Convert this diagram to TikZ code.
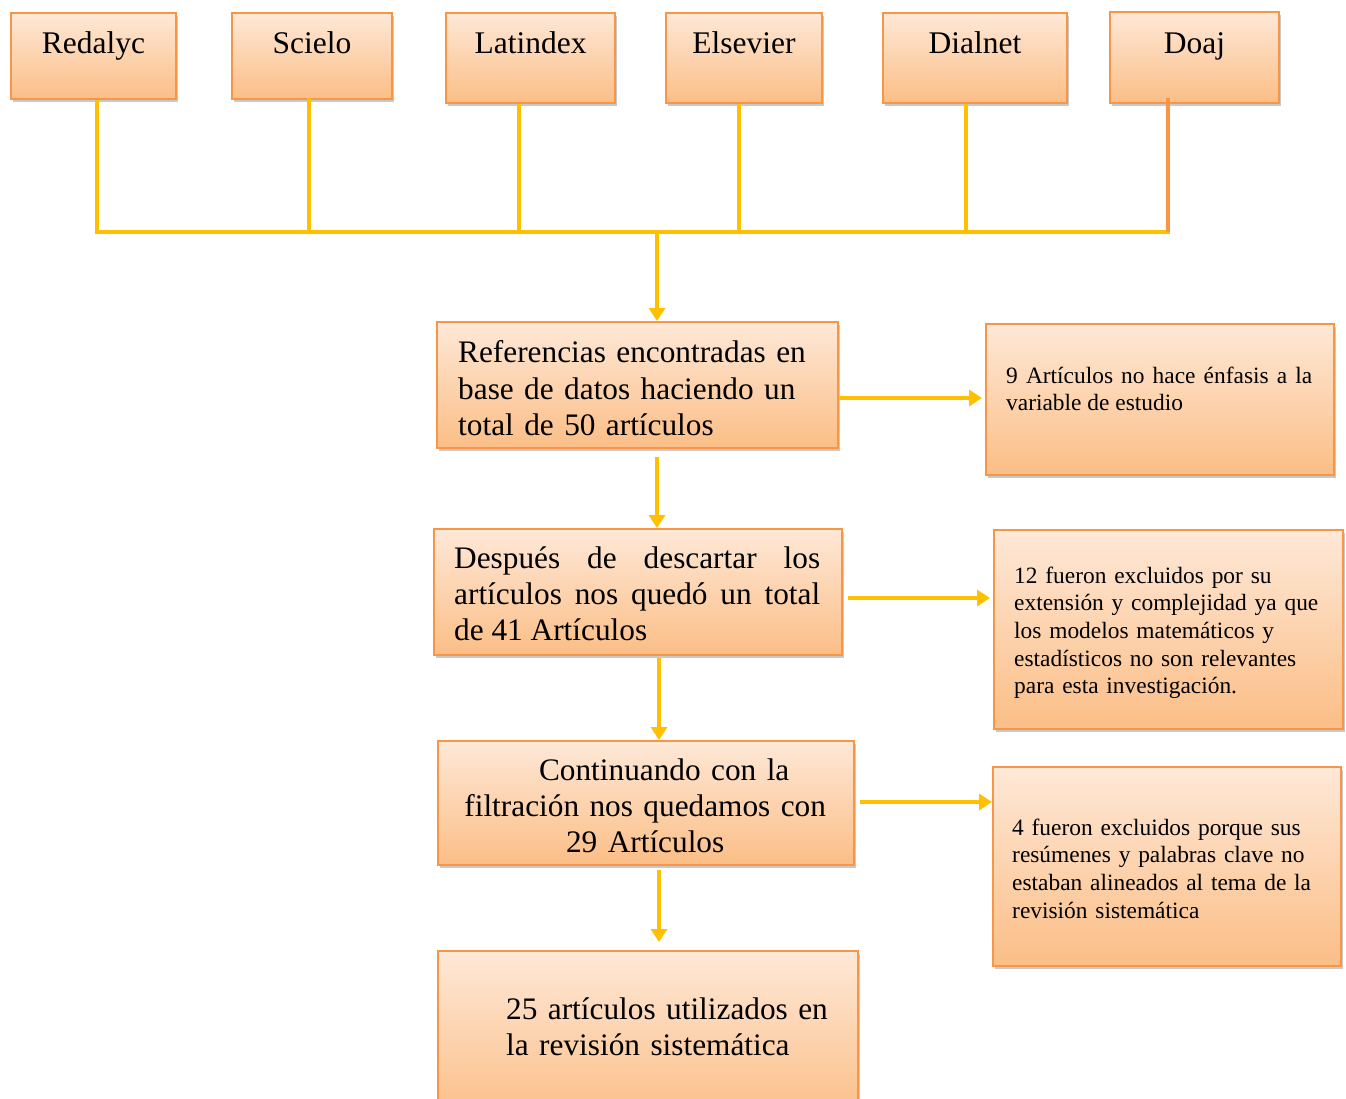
\documentclass[tikz,border=0pt]{standalone}
\usepackage{fontspec}
\setmainfont{Liberation Serif}
\usetikzlibrary{arrows.meta,shadows,calc}
\definecolor{boxtop}{HTML}{FEE8D7}
\definecolor{boxbot}{HTML}{FBBE86}
\definecolor{boxline}{HTML}{F79646}
\definecolor{gold}{HTML}{FFC000}
\newcommand\drawbox[5]{\node[box, minimum width=#4pt, minimum height=#5pt] (#1) at (#2,#3) {};}
\begin{document}
\begin{tikzpicture}[x=1pt,y=-1pt,
  box/.style={draw=boxline, line width=2pt, top color=boxtop, bottom color=boxbot,
    anchor=north west, inner sep=0pt,
    drop shadow={shadow xshift=1.5pt, shadow yshift=-3pt, opacity=0.3, fill=black!70}},
  toplbl/.style={anchor=base, inner sep=0pt, font=\fontsize{31.5}{36.4}\selectfont},
  mainlbl/.style={anchor=base west, inner sep=0pt, font=\fontsize{31.3}{36.4}\selectfont},
  sidelbl/.style={anchor=base west, inner sep=0pt, font=\fontsize{23.4}{27.7}\selectfont},
  conn/.style={draw=gold, line width=4.5pt},
  arr/.style={draw=gold, line width=4.5pt, -{Triangle[width=16pt,length=13pt]}},
]
\useasboundingbox (0,0) rectangle (1346,1098);
% top boxes
\drawbox{red}{10}{12}{165}{86}
\drawbox{sci}{231}{12}{160}{86}
\drawbox{lat}{445}{12}{169}{90}
\drawbox{els}{665}{12}{156}{90}
\drawbox{dia}{882}{12}{184}{90}
\drawbox{doa}{1109}{11}{169}{91}
\node[toplbl] (tred) at (red.center |- 0,53.5) {Redalyc};
\node[toplbl] (tsci) at (sci.center |- 0,53.5) {Scielo};
\node[toplbl] (tlat) at (lat.center |- 0,53.5) {Latindex};
\node[toplbl] (tels) at (els.center |- 0,53.5) {Elsevier};
\node[toplbl] (tdia) at (dia.center |- 0,53.5) {Dialnet};
\node[toplbl] (tdoa) at (doa.center |- 0,53.5) {Doaj};
% bus coordinates
\coordinate (b1) at (97,232);
\coordinate (b2) at (309,232);
\coordinate (b3) at (519,232);
\coordinate (b4) at (739,232);
\coordinate (b5) at (966,232);
\coordinate (b6) at (1168,232);
\coordinate (bm) at (657,232);
\draw[conn] (red.south -| b1) -- (b1);
\draw[conn] ([yshift=2pt]sci.south -| b2) -- (b2);
\draw[conn] (lat.south -| b3) -- (b3);
\draw[conn] (els.south -| b4) -- (b4);
\draw[conn] (dia.south -| b5) -- (b5);
\draw[conn] ([xshift=-2.25pt]b1) -- ([xshift=2.25pt]b6);
\draw[draw=boxline, line width=4.5pt] ([yshift=6pt]doa.south -| b6) -- (b6);
% main boxes
\drawbox{m1}{436}{321}{401}{126}
\drawbox{m2}{433}{528}{408}{126}
\drawbox{m3}{437}{740}{416}{124}
\drawbox{m4}{437}{950}{420}{170}
\node[mainlbl, text width=380pt, align=left] (t1) at (458,362.7)
  {Referencias encontradas en\\base de datos haciendo un\\total de 50 artículos};
\node[mainlbl, text width=366pt, align=justify] (t2) at (454,568)
  {Después de descartar los\linebreak artículos nos quedó un total\linebreak de 41 Artículos};
\node[mainlbl, text width=400pt, align=center] (t3) at (445,780)
  {\hspace*{38pt}Continuando con la\\filtración nos quedamos con\\29 Artículos};
\node[mainlbl, text width=400pt, align=left] (t4) at (506,1019)
  {25 artículos utilizados en\\la revisión sistemática};
% side boxes
\drawbox{s1}{985}{323}{348}{151}
\drawbox{s2}{993}{529}{349}{199}
\drawbox{s3}{992}{766}{348}{199}
\node[sidelbl, text width=306pt, align=justify] (u1) at (1006,383)
  {9 Artículos no hace énfasis a la\linebreak variable de estudio};
\node[sidelbl, text width=320pt, align=left] (u2) at (1014,583)
  {12 fueron excluidos por su\\extensión y complejidad ya que\\los modelos matemáticos y\\estadísticos no son relevantes\\para esta investigación.};
\node[sidelbl, text width=320pt, align=left] (u3) at (1012,835)
  {4 fueron excluidos porque sus\\resúmenes y palabras clave no\\estaban alineados al tema de la\\revisión sistemática};
% arrows
\draw[arr] (bm) -- (bm |- m1.north);
\coordinate (c2) at (659,0);
\draw[arr] ([yshift=-8pt]m1.south -| bm) -- (bm |- m2.north);
\draw[arr] ([yshift=-2pt]m2.south -| c2) -- (c2 |- m3.north);
\draw[arr] ([yshift=-4pt]m3.south -| c2) -- ([yshift=8pt]c2 |- m4.north);
\coordinate (r1) at (0,398);
\coordinate (r2) at (0,598);
\coordinate (r3) at (0,802);
\draw[arr] ([xshift=1pt]m1.east |- r1) -- ([xshift=-3pt]s1.west |- r1);
\draw[arr] ([xshift=5pt]m2.east |- r2) -- ([xshift=-3pt]s2.west |- r2);
\draw[arr] ([xshift=5pt]m3.east |- r3) -- (s3.west |- r3);
\end{tikzpicture}
\end{document}
